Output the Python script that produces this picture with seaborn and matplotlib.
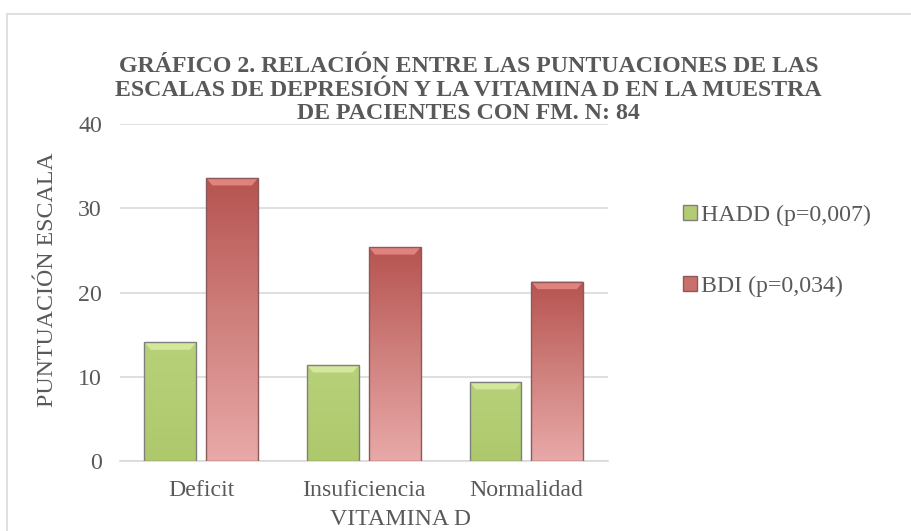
import numpy as np
import pandas as pd
import matplotlib
matplotlib.use('Agg')
import matplotlib.pyplot as plt
import seaborn as sns
from matplotlib.patches import Patch, Rectangle, Polygon
from matplotlib.colors import LinearSegmentedColormap

# data
categories = ['Deficit', 'Insuficiencia', 'Normalidad']
hadd = [14.1, 11.4, 9.4]
bdi = [33.6, 25.4, 21.3]
series = ['HADD (p=0,007)', 'BDI (p=0,034)']

df = pd.DataFrame({
    'vitamina': categories * 2,
    'puntuacion': hadd + bdi,
    'escala': [series[0]] * 3 + [series[1]] * 3,
})

sns.set_style('white')
plt.rcParams['font.family'] = ['Liberation Serif', 'DejaVu Serif']

grey = '#595959'
fs = 17.2
fig = plt.figure(figsize=(9.11, 5.31), dpi=100)
ax = fig.add_axes([0.1317, 0.1318, 0.5353, 0.6347])

# outer chart frame
fig.patches.append(Rectangle((0.0077, -0.01), 1.0, 0.984, transform=fig.transFigure,
                             fill=False, edgecolor='#d9d9d9', linewidth=1.2))

sns.barplot(data=df, x='vitamina', y='puntuacion', hue='escala', order=categories,
            hue_order=series, palette=['#b3cc73', '#c9706d'], width=0.76, gap=0.16,
            legend=False, ax=ax, zorder=3)

# gradient fills like the Excel bevel bars
green_cmap = LinearSegmentedColormap.from_list('g', ['#aec96c', '#b7d17a'])
red_cmap = LinearSegmentedColormap.from_list('r', ['#e8a9a8', '#cf807d', '#b65350'])
grad = np.linspace(0, 1, 256).reshape(-1, 1)
for i, bar in enumerate(ax.patches):
    x0, y0 = bar.get_x(), bar.get_y()
    w, h = bar.get_width(), bar.get_height()
    is_green = i < len(categories)
    cmap = green_cmap if is_green else red_cmap
    im = ax.imshow(grad, cmap=cmap, aspect='auto', origin='lower',
                   extent=[x0, x0 + w, y0, y0 + h], zorder=3.5)
    im.set_clip_path(bar)
    bar.set_facecolor('none')
    bar.set_edgecolor('#7f7f7f' if is_green else '#8c5a5a')
    bar.set_linewidth(1.0)
    bar.set_zorder(4)
    # top bevel
    dx = w * 0.12
    dy = 0.9
    top_col = '#d4e79a' if is_green else '#e0827e'
    ax.add_patch(Polygon([[x0, y0 + h], [x0 + w, y0 + h], [x0 + w - dx, y0 + h - dy],
                          [x0 + dx, y0 + h - dy]], closed=True, facecolor=top_col,
                         edgecolor='none', zorder=3.8))

ax.set_ylim(0, 40)
ax.set_yticks([0, 10, 20, 30, 40])
ax.set_xlim(-0.5, 2.5)
ax.grid(axis='y', color='#d9d9d9', linewidth=1.2, zorder=0)
ax.set_axisbelow(True)
for s in ['top', 'right', 'left']:
    ax.spines[s].set_visible(False)
ax.spines['bottom'].set_color('#d9d9d9')
ax.spines['bottom'].set_linewidth(1.2)
ax.tick_params(axis='both', length=0, labelsize=fs, labelcolor=grey)
ax.tick_params(axis='x', pad=14)
ax.tick_params(axis='y', pad=13)

ax.set_xlabel('VITAMINA D', fontsize=fs, color=grey)
ax.set_ylabel('PUNTUACIÓN ESCALA', fontsize=fs, color=grey)
ax.xaxis.set_label_coords(0.576, -0.142)
ax.yaxis.set_label_coords(-0.127, 0.537)

fig.text(0.514, 0.83,
         'GRÁFICO 2. RELACIÓN ENTRE LAS PUNTUACIONES DE LAS\n'
         'ESCALAS DE DEPRESIÓN Y LA VITAMINA D EN LA MUESTRA\n'
         'DE PACIENTES CON FM. N: 84',
         ha='center', va='center', fontsize=fs, fontweight='bold', color=grey,
         linespacing=1.15)

handles = [Patch(facecolor='#b3cc73', edgecolor='#7f7f7f'),
           Patch(facecolor='#c9706d', edgecolor='#8c5a5a')]
fig.legend(handles, series, loc='center left', bbox_to_anchor=(0.7497, 0.528),
           frameon=False, fontsize=fs, labelcolor=grey, handlelength=0.58,
           handleheight=0.58, handletextpad=0.16, labelspacing=2.1,
           borderaxespad=0, borderpad=0)

fig.savefig('out.png', dpi=100)
